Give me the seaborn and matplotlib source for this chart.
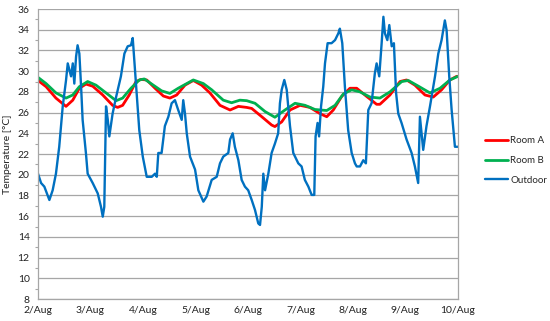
import numpy as np
import pandas as pd
import matplotlib
matplotlib.use("Agg")
import matplotlib.pyplot as plt
import seaborn as sns

# Hours since 2/Aug 00:00 and temperatures
room_a_hours = [0, 3.7, 8.2, 12.8, 15.9, 18.9, 21.9, 25.0, 29.6, 34.1, 36.4, 38.7, 41.7, 44.8,
                47.1, 49.7, 53.5, 57.3, 60.3, 63.4, 67.2, 71.0, 74.8, 78.6, 83.2, 87.8, 91.6,
                95.4, 97.7, 102.3, 106.8, 108.3, 111.4, 115.2, 119.8, 124.3, 128.9, 132.0,
                135.0, 138.8, 142.6, 145.7, 150.3, 154.8, 156.3, 160.9, 165.5, 168.5, 172.3,
                176.9, 180.7, 184.5, 188.3, 191.4, 192.0]
room_a_temp = [29.1, 28.5, 27.4, 26.6, 27.2, 28.35, 28.75, 28.55, 27.7, 26.7, 26.5, 26.7, 27.7, 29.0,
               29.2, 29.15, 28.35, 27.6, 27.4, 27.7, 28.65, 29.1, 28.65, 27.9, 26.7, 26.25, 26.6,
               26.5, 26.4, 25.6, 24.8, 24.65, 25.1, 26.25, 26.7, 26.5, 25.9, 25.6,
               26.25, 27.55, 28.35, 28.35, 27.55, 26.8, 26.8, 27.7, 29.0, 29.15, 28.65,
               27.7, 27.5, 28.2, 29.15, 29.5, 29.5]

room_b_hours = [0, 3.7, 8.2, 12.8, 15.9, 18.9, 22.7, 26.5, 31.1, 35.7, 38.7, 42.5, 46.3, 48.6,
                52.7, 56.5, 60.3, 64.1, 71.0, 75.6, 79.4, 84.7, 88.5, 92.3, 95.4, 99.2, 103.8,
                108.3, 112.9, 117.5, 122.1, 126.6, 132.0, 135.8, 139.6, 143.4, 147.2, 151.8,
                156.3, 160.9, 166.3, 169.3, 173.9, 179.2, 183.8, 188.3, 192.0]
room_b_temp = [29.4, 28.8, 27.9, 27.4, 27.7, 28.5, 29.0, 28.65, 27.9, 27.15, 27.4, 28.35, 29.15, 29.25,
               28.65, 28.1, 27.85, 28.35, 29.15, 28.8, 28.2, 27.2, 26.95, 27.2, 27.15, 26.9, 26.1,
               25.55, 26.25, 26.9, 26.7, 26.3, 26.2, 26.7, 27.8, 28.2, 28.0, 27.5,
               27.4, 28.0, 29.0, 29.1, 28.55, 27.9, 28.35, 29.15, 29.5]

outdoor_hours = [0, 1.4, 2.9, 5.2, 6.7, 8.2, 9.7, 11.3, 12.8, 13.6, 15.1, 15.9, 16.6, 17.4, 18.1,
                 18.9, 19.7, 20.4, 21.9, 22.7, 25.0, 27.3, 28.8, 29.6, 30.3, 31.1, 31.9, 32.6,
                 34.1, 35.7, 37.9, 39.5, 41.0, 42.5, 43.3, 44.0, 44.8, 46.3, 47.9, 49.7, 52.0,
                 53.5, 54.3, 55.0, 56.5, 58.0, 59.6, 61.1, 62.6, 64.1, 65.7, 66.4, 67.2, 68.0,
                 69.5, 71.8, 73.3, 75.6, 77.1, 79.4, 81.7, 83.2, 84.7, 87.0, 87.8, 89.0, 90.0,
                 91.6, 93.1, 94.6, 96.1, 97.7, 99.2, 100.7, 101.5, 102.3, 103.0, 103.8, 105.3,
                 106.8, 108.3, 109.8, 110.6, 111.4, 112.6, 113.7, 115.2, 116.7, 119.0, 120.5,
                 122.0, 123.6, 125.1, 126.3, 126.9, 127.8, 128.5, 129.4, 130.4, 131.2, 132.4,
                 134.2, 135.8, 137.3, 138.0, 139.1, 140.3, 141.8, 143.4, 144.9, 145.7, 147.2,
                 148.7, 149.9, 151.0, 152.5, 154.0, 154.8, 156.0, 157.1, 157.9, 158.6, 159.7,
                 160.6, 161.7, 162.7, 163.7, 164.7, 166.2, 168.5, 170.8, 172.3, 173.8, 174.6,
                 176.1, 177.6, 179.2, 181.5, 183.0, 184.5, 186.0, 186.8, 188.0, 189.1, 190.6,
                 192.0]
outdoor_temp = [20.1, 19.2, 18.85, 17.56, 18.5, 20.1, 22.7, 26.6, 29.1, 30.75, 29.5, 30.75, 28.8, 31.4, 32.5,
                31.7, 28.5, 25.3, 22.1, 20.1, 19.2, 18.2, 16.9, 15.95, 16.9, 26.6, 25.3, 23.7,
                25.9, 27.5, 29.5, 31.7, 32.4, 32.5, 33.2, 31.1, 28.8, 24.3, 21.75, 19.8, 19.8,
                20.1, 19.8, 22.1, 22.1, 24.7, 25.6, 26.9, 27.2, 26.25, 25.3, 27.2, 25.9, 24.0,
                21.75, 20.5, 18.5, 17.4, 17.9, 19.5, 19.8, 21.1, 21.75, 22.1, 23.4, 24.0, 22.7,
                21.4, 19.5, 18.85, 18.5, 17.56, 16.6, 15.3, 15.15, 16.9, 20.1, 18.5, 20.1,
                22.1, 23.0, 24.0, 26.9, 28.2, 29.15, 28.2, 24.7, 22.1, 21.1, 20.8,
                19.5, 18.85, 18.05, 18.05, 23.7, 25.0, 23.7, 26.6, 28.5, 30.75, 32.7,
                32.7, 33.0, 33.65, 34.1, 32.7, 28.5, 24.3, 22.1, 21.1, 20.8, 20.8,
                21.4, 21.1, 26.25, 26.9, 29.8, 30.75, 29.5, 32.7, 35.25, 33.65, 33.0,
                34.45, 32.4, 32.7, 27.9, 25.9, 25.0, 23.4, 22.1, 20.8, 19.2, 25.6,
                22.4, 24.7, 26.6, 29.5, 31.7, 33.0, 34.9, 33.95, 29.5, 26.25, 22.7,
                22.7]

day_labels = ["2/Aug", "3/Aug", "4/Aug", "5/Aug", "6/Aug", "7/Aug", "8/Aug", "9/Aug", "10/Aug"]
y_ticks = list(range(8, 37, 2))

sns.set_style("white")
plt.rcParams['font.family'] = ['Lato', 'DejaVu Sans']

fig = plt.figure(figsize=(5.5, 3.21), dpi=100)
ax = fig.add_axes([0.0691, 0.0685, 0.7636, 0.9034])

room_a = pd.DataFrame({"hour": room_a_hours, "temp": room_a_temp})
room_b = pd.DataFrame({"hour": room_b_hours, "temp": room_b_temp})
outdoor = pd.DataFrame({"hour": outdoor_hours, "temp": outdoor_temp})

sns.lineplot(data=room_a, x="hour", y="temp", ax=ax, color="#FF0000", linewidth=2.0,
             label="Room A", estimator=None, sort=False)
sns.lineplot(data=room_b, x="hour", y="temp", ax=ax, color="#00B050", linewidth=2.0,
             label="Room B", estimator=None, sort=False)
sns.lineplot(data=outdoor, x="hour", y="temp", ax=ax, color="#0070C0", linewidth=1.7,
             label="Outdoor", estimator=None, sort=False)

ax.set_xlim(0, 192)
ax.set_ylim(8, 36)
ax.set_xticks(np.arange(0, 193, 24))
ax.set_xticklabels(day_labels)
ax.set_yticks(y_ticks)
ax.set_yticks(range(9, 36, 2), minor=True)
ax.yaxis.grid(True, color="#A6A6A6", linewidth=0.9)
ax.xaxis.grid(False)
ax.set_axisbelow(True)

for side in ["left", "bottom", "right"]:
    ax.spines[side].set_color("#A6A6A6")
    ax.spines[side].set_linewidth(0.9)
ax.spines["top"].set_visible(False)

ax.tick_params(axis="both", which="major", labelsize=7.5, colors="#A6A6A6", labelcolor="#222222",
               length=4, width=0.8, direction="out", pad=2)
ax.tick_params(axis="y", which="minor", length=2.5, width=0.8, colors="#A6A6A6", left=True)
ax.tick_params(axis="x", which="major", direction="inout", length=6)

ax.set_xlabel("")
ax.set_ylabel("Temperature [°C]", fontsize=7.5, color="#222222", labelpad=4)

ax.legend_.remove()
handles, labels = ax.get_legend_handles_labels()
fig.legend(handles, labels, loc="center left", bbox_to_anchor=(0.881, 0.5), frameon=False,
           fontsize=7.0, handlelength=2.4, handletextpad=0.25, labelspacing=1.1,
           borderpad=0.0, borderaxespad=0.0)

fig.savefig("out.png", dpi=100)
